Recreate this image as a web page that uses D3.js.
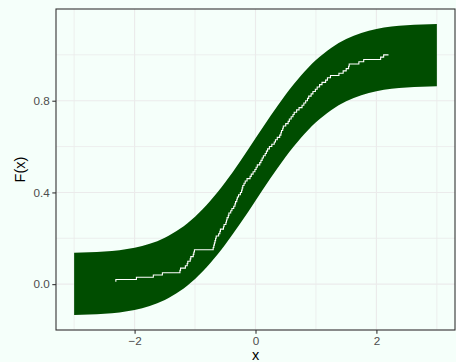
<!DOCTYPE html>
<html>
<head>
<meta charset="utf-8">
<script src="https://cdn.jsdelivr.net/npm/d3@7"></script>
<style>
  html, body { margin: 0; padding: 0; background: #F5FFFA; }
  svg { display: block; }
</style>
</head>
<body>
<svg id="chart" width="456" height="362"></svg>
<script>
// Sorted sample values (ECDF steps, n = 100)
const sampleX = [
  -2.31, -1.97, -1.69, -1.54, -1.25, -1.24, -1.16, -1.13, -1.12, -1.08,
  -1.07, -1.03, -1.02, -1.01, -0.70, -0.69, -0.68, -0.67, -0.66, -0.65,
  -0.61, -0.59, -0.58, -0.53, -0.52, -0.49, -0.48, -0.47, -0.45, -0.44,
  -0.41, -0.39, -0.36, -0.34, -0.33, -0.31, -0.30, -0.28, -0.25, -0.23,
  -0.22, -0.21, -0.19, -0.17, -0.14, -0.09, -0.07, -0.04, -0.01, 0.01,
  0.03, 0.07, 0.09, 0.11, 0.13, 0.16, 0.18, 0.20, 0.23, 0.27,
  0.31, 0.33, 0.36, 0.40, 0.42, 0.43, 0.45, 0.46, 0.50, 0.54,
  0.56, 0.59, 0.62, 0.64, 0.68, 0.72, 0.77, 0.80, 0.83, 0.86,
  0.88, 0.92, 0.95, 0.99, 1.02, 1.06, 1.10, 1.16, 1.19, 1.24,
  1.38, 1.45, 1.50, 1.54, 1.55, 1.71, 1.79, 2.07, 2.12, 2.20
];

// Confidence band: grid of x with theoretical CDF values, band half-width
const bandX = [-3, -2.75, -2.5, -2.25, -2, -1.75, -1.5, -1.25, -1, -0.75, -0.5, -0.25, 0,
               0.25, 0.5, 0.75, 1, 1.25, 1.5, 1.75, 2, 2.25, 2.5, 2.75, 3];
const bandMid = [0.00135, 0.00298, 0.00621, 0.01222, 0.02275, 0.04006, 0.06681, 0.10565, 0.15866,
                 0.22663, 0.30854, 0.40129, 0.5, 0.59871, 0.69146, 0.77337, 0.84134, 0.89435,
                 0.93319, 0.95994, 0.97725, 0.98778, 0.99379, 0.99702, 0.99865];
const bandEps = 0.1358;

const xTicks = [-2, 0, 2];
const xMinor = [-3, -1, 1, 3];
const yTicks = [0.0, 0.4, 0.8];
const yMinor = [-0.2, 0.2, 0.6, 1.0];
const xTitle = "x";
const yTitle = "F(x)";

const svg = d3.select("#chart");
const W = 456, H = 362;
const m = { left: 56, right: 1, top: 9, bottom: 32 };
const pw = W - m.left - m.right, ph = H - m.top - m.bottom;

svg.append("rect").attr("width", W).attr("height", H).attr("fill", "#F5FFFA");

const x = d3.scaleLinear().domain([-3.3, 3.3]).range([m.left, m.left + pw]);
const y = d3.scaleLinear().domain([-0.2, 1.2]).range([m.top + ph, m.top]);

const g = svg.append("g");
g.append("rect").attr("x", m.left).attr("y", m.top).attr("width", pw).attr("height", ph)
  .attr("fill", "#F5FFFA");

// grid
const grid = g.append("g");
xMinor.forEach(v => grid.append("line").attr("x1", x(v)).attr("x2", x(v))
  .attr("y1", m.top).attr("y2", m.top + ph).attr("stroke", "#EBEBEB").attr("stroke-width", 0.8));
yMinor.forEach(v => grid.append("line").attr("y1", y(v)).attr("y2", y(v))
  .attr("x1", m.left).attr("x2", m.left + pw).attr("stroke", "#EBEBEB").attr("stroke-width", 0.8));
xTicks.forEach(v => grid.append("line").attr("x1", x(v)).attr("x2", x(v))
  .attr("y1", m.top).attr("y2", m.top + ph).attr("stroke", "#EBEBEB").attr("stroke-width", 1.1));
yTicks.forEach(v => grid.append("line").attr("y1", y(v)).attr("y2", y(v))
  .attr("x1", m.left).attr("x2", m.left + pw).attr("stroke", "#EBEBEB").attr("stroke-width", 1.1));

// band
const bandData = bandX.map((bx, i) => ({ x: bx, lo: bandMid[i] - bandEps, hi: bandMid[i] + bandEps }));
const area = d3.area().x(d => x(d.x)).y0(d => y(d.lo)).y1(d => y(d.hi)).curve(d3.curveMonotoneX);
g.append("path").datum(bandData).attr("d", area).attr("fill", "#004D00");

// ECDF step line
const n = sampleX.length;
const ecdf = sampleX.map((v, i) => ({ x: v, y: (i + 1) / n }));
const line = d3.line().x(d => x(d.x)).y(d => y(d.y)).curve(d3.curveStepBefore);
g.append("path").datum(ecdf).attr("d", line).attr("fill", "none")
  .attr("stroke", "#FFFFFF").attr("stroke-width", 1.1);

// panel border
g.append("rect").attr("x", m.left).attr("y", m.top).attr("width", pw).attr("height", ph)
  .attr("fill", "none").attr("stroke", "#333333").attr("stroke-width", 1.1);

// axes
const xAxis = d3.axisBottom(x).tickValues(xTicks).tickSize(3.7).tickPadding(2.5)
  .tickFormat(d => d3.format("d")(d).replace("-", "\u2212"));
const gx = svg.append("g").attr("transform", `translate(0,${m.top + ph})`).call(xAxis);
const yAxis = d3.axisLeft(y).tickValues(yTicks).tickSize(3.7).tickPadding(2.5)
  .tickFormat(d3.format(".1f"));
const gy = svg.append("g").attr("transform", `translate(${m.left},0)`).call(yAxis);
[gx, gy].forEach(a => {
  a.select(".domain").remove();
  a.selectAll(".tick line").attr("stroke", "#333333").attr("stroke-width", 1.1);
  a.selectAll(".tick text").attr("fill", "#4D4D4D").style("font-family", "Liberation Sans, Arial, sans-serif")
    .style("font-size", "11.7px");
});

svg.append("text").attr("x", x(0)).attr("y", 359.5).attr("text-anchor", "middle")
  .style("font-family", "Liberation Sans, Arial, sans-serif").style("font-size", "14.5px")
  .attr("fill", "#000").text(xTitle);
svg.append("text").attr("transform", `translate(25,${m.top + ph / 2}) rotate(-90)`)
  .attr("text-anchor", "middle")
  .style("font-family", "Liberation Sans, Arial, sans-serif").style("font-size", "14.5px")
  .attr("fill", "#000").text(yTitle);
</script>
</body>
</html>
